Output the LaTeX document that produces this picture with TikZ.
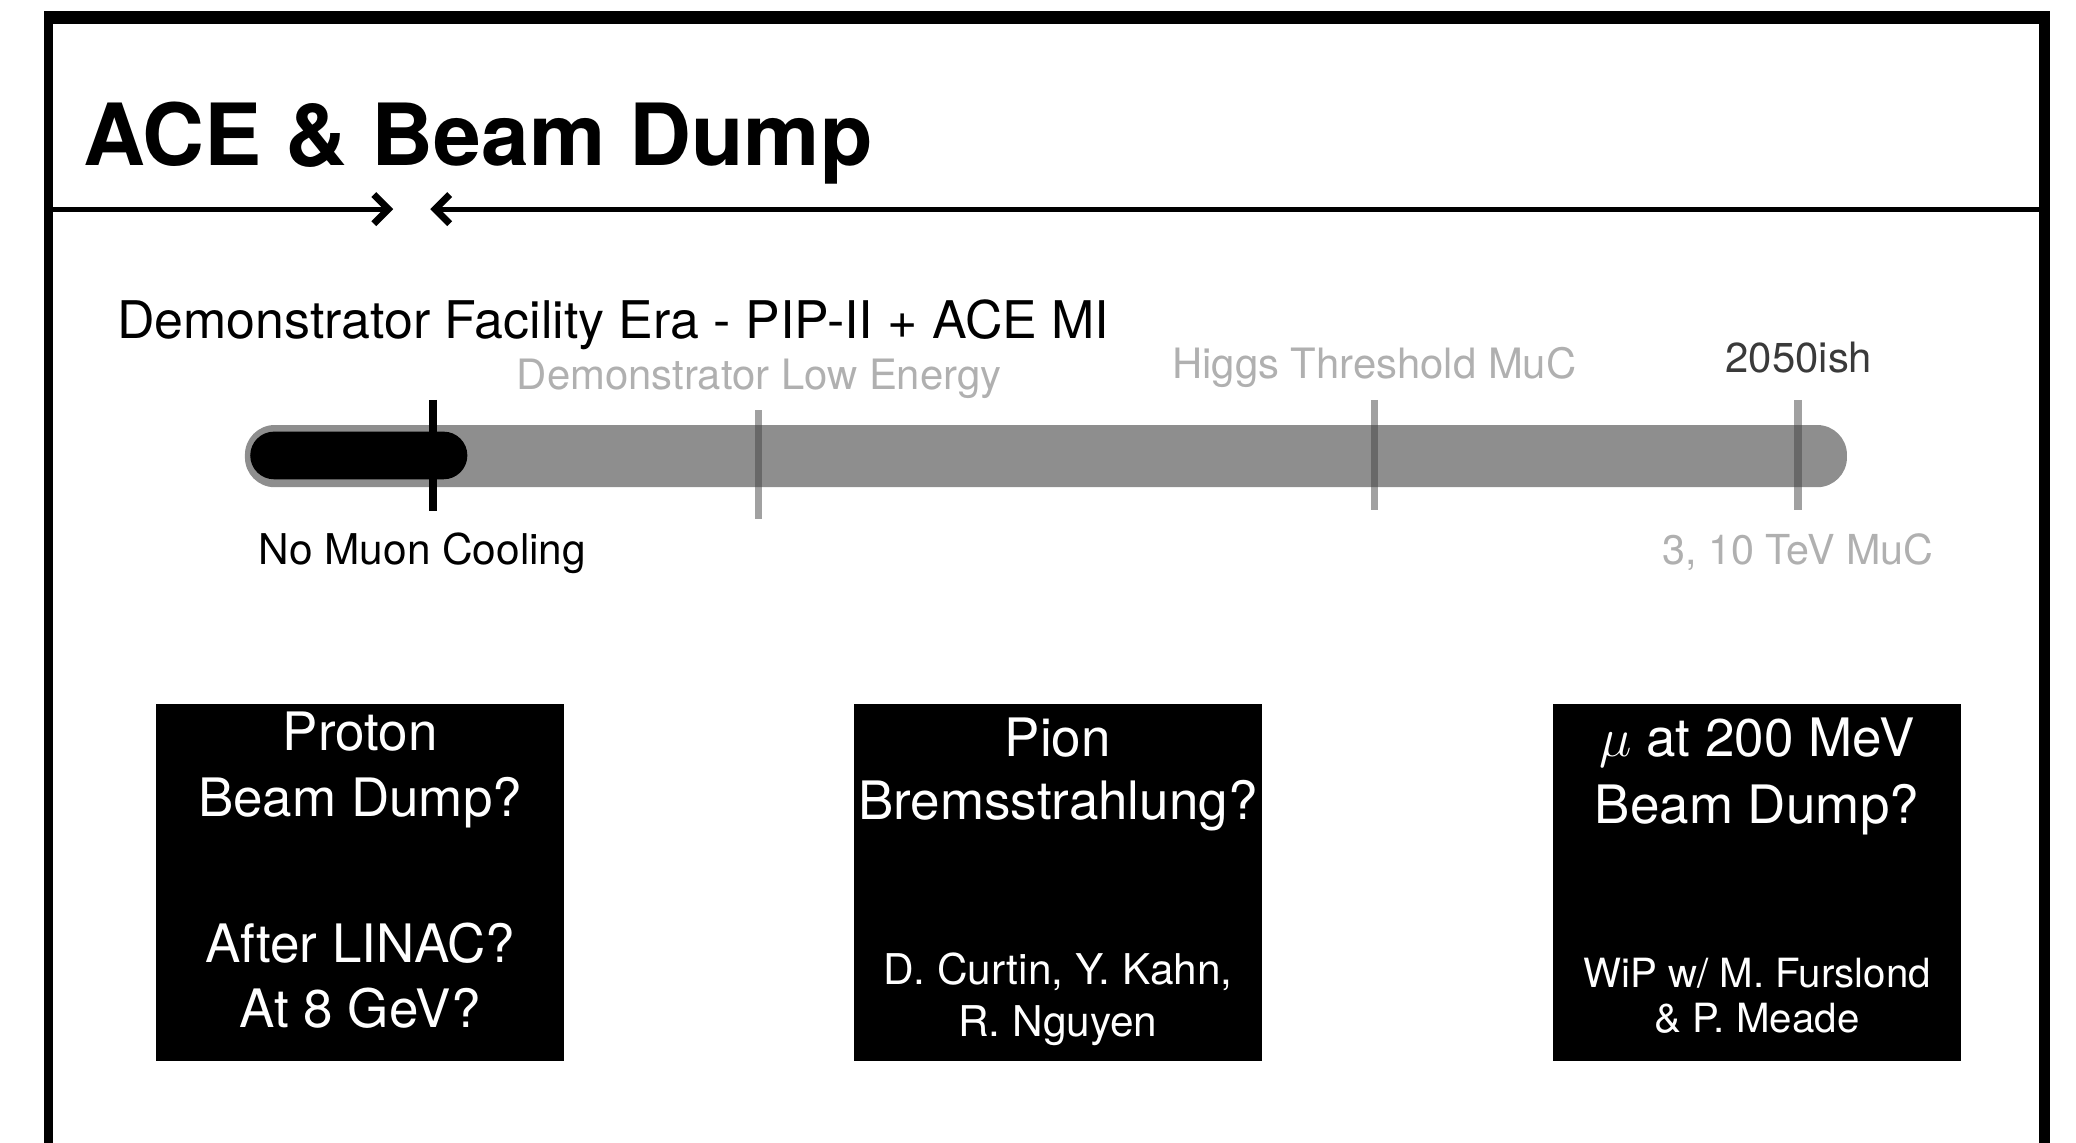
\documentclass[tikz,border=0pt]{standalone}
\usepackage{fontspec}
\setmainfont{TeX Gyre Heros}
\usetikzlibrary{arrows.meta}
\definecolor{bargray}{HTML}{8E8E8E}
\definecolor{lightlbl}{HTML}{B0B0B0}
\definecolor{darklbl}{HTML}{3A3A3A}
\definecolor{tickgray}{HTML}{444444}
\begin{document}
\begin{tikzpicture}[x=0.5pt,y=-0.5pt,
  lbl/.style={inner sep=0pt, anchor=base west},
  boxtxt/.style={inner sep=0pt, anchor=base, text=white, font=\fontsize{20}{24}\selectfont},
  boxsmall/.style={inner sep=0pt, anchor=base, text=white, font=\fontsize{16}{19}\selectfont},
  dumpbox/.style={fill=black, draw=none, minimum width=154pt, minimum height=134.5pt, inner sep=0pt},
  tickmark/.style={line width=2.8pt, tickgray, opacity=0.5},
  rulearrow/.style={line width=2pt, -{Straight Barb[length=5.5pt,width=11pt,line width=2.6pt]}},
]
\useasboundingbox (0,0) rectangle (1568,863);
% frame
\fill[black] (33,8) rectangle (1548,18);
\fill[black] (33,8) rectangle (40,863);
\fill[black] (1540,8) rectangle (1548,863);

% title
\node[lbl, font=\fontsize{32.4}{38}\selectfont\bfseries] (title) at (63,125) {ACE \& Beam Dump};

% arrows under title
\coordinate (la) at (40,158);
\coordinate (lb) at (297,158);
\coordinate (ra) at (1540,158);
\coordinate (rb) at (325,158);
\draw[rulearrow] (la) -- (lb);
\draw[rulearrow] (ra) -- (rb);

% era heading
\node[lbl, font=\fontsize{19.6}{24}\selectfont] (era) at (88,256) {Demonstrator Facility Era - PIP-II + ACE MI};

% timeline labels
\node[lbl, text=lightlbl, font=\fontsize{15.8}{19}\selectfont] (demo) at (390,294) {Demonstrator Low Energy};
\node[lbl, text=lightlbl, font=\fontsize{15.8}{19}\selectfont] (higgs) at (885,286) {Higgs Threshold MuC};
\node[lbl, text=darklbl, font=\fontsize{15.8}{19}\selectfont] (year) at (1303,281) {2050ish};
\node[lbl, font=\fontsize{16}{19}\selectfont] (nocool) at (195,426) {No Muon Cooling};
\node[lbl, text=lightlbl, font=\fontsize{15.6}{19}\selectfont] (tev) at (1255,426) {3, 10 TeV MuC};

% bar
\fill[bargray, rounded corners=11.25pt] (185,321) rectangle (1395,368);
\fill[black, rounded corners=9pt] (189,326) rectangle (353,362);
\draw[line width=2.8pt] (327,302) -- (327,386);
\draw[tickmark] (573,310) -- (573,392);
\draw[tickmark] (1038,302) -- (1038,385);
\draw[tickmark] (1358,302) -- (1358,385);

% boxes
\node[dumpbox] (b1) at (272,666.5) {};
\node[dumpbox] (b2) at (799,666.5) {};
\node[dumpbox] (b3) at (1327,666.5) {};

\node[boxtxt] (b1a) at (272,567) {Proton};
\node[boxtxt] (b1b) at (272,617) {Beam Dump?};
\node[boxtxt] (b1c) at (272,727) {After LINAC?};
\node[boxtxt] (b1d) at (272,776) {At 8 GeV?};

\node[boxtxt] (b2a) at (799,571) {Pion};
\node[boxtxt] (b2b) at (799,619) {Bremsstrahlung?};
\node[boxsmall] (b2c) at (799,743.5) {D. Curtin, Y. Kahn,};
\node[boxsmall] (b2d) at (799,783) {R. Nguyen};

\node[boxtxt] (b3a) at (1327,571) {$\mu$ at 200 MeV};
\node[boxtxt] (b3b) at (1327,622) {Beam Dump?};
\node[boxsmall, font=\fontsize{15.2}{18}\selectfont] (b3c) at (1327,746) {WiP w/ M. Furslond};
\node[boxsmall, font=\fontsize{15.2}{18}\selectfont] (b3d) at (1327,780) {\& P. Meade};
\end{tikzpicture}
\end{document}
